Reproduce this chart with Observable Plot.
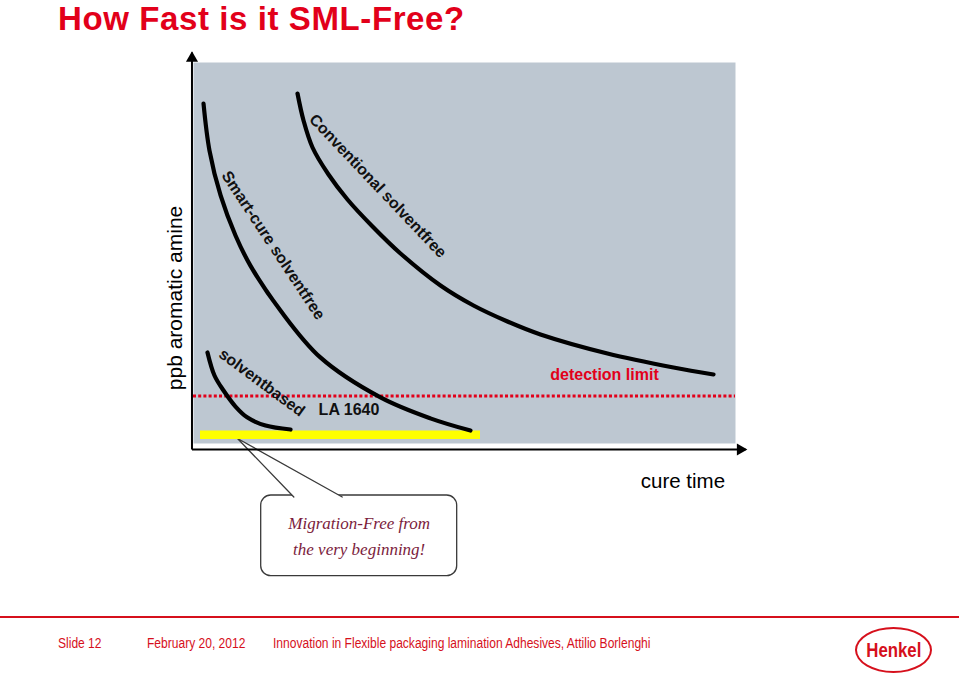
<!DOCTYPE html>
<html><head><meta charset="utf-8">
<script src="https://cdn.jsdelivr.net/npm/d3@7"></script>
<script src="https://cdn.jsdelivr.net/npm/@observablehq/plot@0.6"></script>
<style>
body{margin:0;background:#fff;width:959px;height:676px;position:relative;overflow:hidden;font-family:"Liberation Sans",Arial,sans-serif}
#title{position:absolute;left:58px;top:0;font-size:33px;font-weight:bold;color:#e2001a;line-height:38px;letter-spacing:0.6px;white-space:nowrap}
#chart{position:absolute;left:0;top:0}
#rule{position:absolute;left:0;top:616px;width:959px;height:2px;background:#d6101c}
.foot{position:absolute;top:635px;font-family:"Liberation Sans",Arial,sans-serif;font-size:14px;line-height:16px;color:#d6101c;white-space:nowrap;transform:scaleX(0.86);transform-origin:0 0}
#logo{position:absolute;left:855px;top:627px;width:73px;height:42px;border:2px solid #d6101c;border-radius:50%;color:#d6101c;text-align:center;line-height:42px}
#logo span{display:inline-block;font-weight:bold;font-size:20px;transform:scaleX(0.84)}
</style>
</head><body>
<div id="title">How Fast is it SML-Free?</div>
<div id="chart"></div>
<div id="rule"></div>
<div class="foot" style="left:58px">Slide 12</div>
<div class="foot" style="left:147px">February 20, 2012</div>
<div class="foot" style="left:273px">Innovation in Flexible packaging lamination Adhesives, Attilio Borlenghi</div>
<div id="logo"><span>Henkel</span></div>
<script>
// curve values (x = cure time, y = ppb aromatic amine), relative units 0..100
const conventional = [
  {x:19.19,y:91.86},{x:20.30,y:84.78},{x:21.96,y:77.69},{x:24.91,y:70.60},{x:28.41,y:64.04},
  {x:33.03,y:56.96},{x:38.19,y:49.87},{x:45.57,y:41.47},{x:51.66,y:36.22},{x:57.93,y:32.02},
  {x:64.02,y:28.61},{x:76.38,y:23.62},{x:88.56,y:19.95},{x:95.94,y:18.11}
];
const smartCure = [
  {x:1.85,y:89.2},{x:2.95,y:76.9},{x:5.0,y:65.1},{x:7.75,y:54.6},{x:10.5,y:46.7},
  {x:16.05,y:34.9},{x:23.4,y:22.6},{x:34.5,y:12.1},{x:43.7,y:6.6},{x:51.1,y:3.4}
];
const solventbased = [
  {x:2.58,y:23.9},{x:3.87,y:17.85},{x:5.54,y:13.9},{x:7.75,y:9.7},{x:9.96,y:6.8},
  {x:13.3,y:4.7},{x:17.9,y:3.67}
];
const detectionLimit = 12.47;
const yellowBar = [{x1:1.29,x2:52.95,y1:1.05,y2:3.28}];
const curveLabels = [
  {x:34.0,y:67.6,text:"Conventional solventfree",angle:46.5},
  {x:14.7,y:52.0,text:"Smart-cure solventfree",angle:56.6},
  {x:12.6,y:16.0,text:"solventbased",angle:36.5}
];
const plainLabels = [{x:28.69,y:8.79,text:"LA 1640"}];
const limitLabel = [{x:75.83,y:17.98,text:"detection limit"}];
const xTitle = [{x:90.3,y:-9.97,text:"cure time"}];
const yTitle = [{x:-3.32,y:38.2,text:"ppb aromatic amine"}];
const calloutBox = [{x1:12.49,x2:48.65,y1:-13.65,y2:-34.83}];
const calloutPointer = [{x:18.51,y:-14.04},{x:8.12,y:1.31},{x:27.44,y:-14.04}];
const calloutText = [{x:30.57,y:-20.9,text:"Migration-Free from"},{x:30.57,y:-27.8,text:"the very beginning!"}];
const axisLines = [{x1:-0.28,y1:-1.57,x2:-0.28,y2:102.6},{x1:-0.28,y1:-1.57,x2:101.85,y2:-1.57}];
const arrowHeads = [{x:-0.28,y:101.1,rot:0},{x:100.9,y:-1.57,rot:90}];

const series = [
  ...conventional.map(d=>({...d,s:"conv"})),
  ...smartCure.map(d=>({...d,s:"smart"})),
  ...solventbased.map(d=>({...d,s:"solv"}))
];
const FONT = "Liberation Sans, Arial, sans-serif";
const chart = Plot.plot({
  width:959, height:600,
  marginLeft:193, marginRight:224, marginTop:62, marginBottom:157,
  x:{domain:[0,100], axis:null},
  y:{domain:[0,100], axis:null},
  style:{fontFamily:FONT, background:"transparent", overflow:"visible"},
  marks:[
    Plot.frame({fill:"#bdc7d1", stroke:"none"}),
    Plot.ruleY([detectionLimit], {stroke:"#e2001a", strokeWidth:3, strokeDasharray:"3,2.2"}),
    Plot.rect(calloutBox, {x1:"x1",x2:"x2",y1:"y1",y2:"y2", fill:"white", stroke:"#3a3a3a", strokeWidth:1.3, rx:10}),
    Plot.line(calloutPointer, {x:"x", y:"y", fill:"white", stroke:"#3a3a3a", strokeWidth:1.3, curve:"linear"}),
    Plot.rect(yellowBar, {x1:"x1",x2:"x2",y1:"y1",y2:"y2", fill:"#ffff00"}),
    Plot.line(series, {x:"x", y:"y", z:"s", curve:"catmull-rom", stroke:"black", strokeWidth:4.2}),
    Plot.text(curveLabels, {x:"x", y:"y", text:"text", rotate:"angle", fontSize:16, fontWeight:"bold", fill:"#111"}),
    Plot.text(plainLabels, {x:"x", y:"y", text:"text", fontSize:16, fontWeight:"bold", fill:"#111"}),
    Plot.text(limitLabel, {x:"x", y:"y", text:"text", fontSize:16, fontWeight:"bold", fill:"#e2001a"}),
    Plot.text(xTitle, {x:"x", y:"y", text:"text", fontSize:20.5, fill:"black"}),
    Plot.text(yTitle, {x:"x", y:"y", text:"text", fontSize:21, rotate:-90, fill:"black"}),
    Plot.text(calloutText, {x:"x", y:"y", text:"text", fontSize:17, fontStyle:"italic", fontFamily:"Liberation Serif, DejaVu Serif, serif", fill:"#7b1c3c"}),
    Plot.link(axisLines, {x1:"x1",y1:"y1",x2:"x2",y2:"y2", stroke:"black", strokeWidth:2}),
    Plot.dot(arrowHeads, {x:"x", y:"y", symbol:"triangle", r:4.5, fill:"black", stroke:"none", rotate:"rot"})
  ]
});
document.getElementById("chart").appendChild(chart);
</script>
</body></html>
